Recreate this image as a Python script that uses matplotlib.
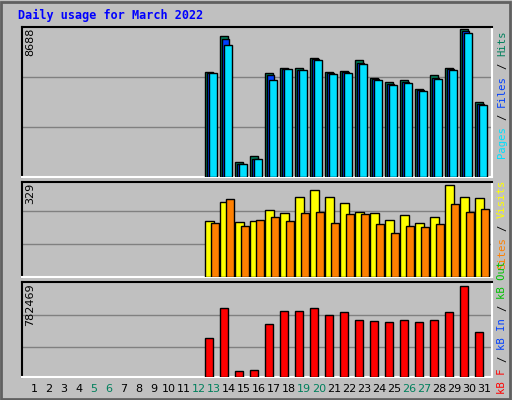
import matplotlib
matplotlib.use("Agg")
import matplotlib.pyplot as plt
from matplotlib.patches import Rectangle

days = list(range(1, 32))
data_days = list(range(13, 32))
hits = [6163, 8262, 857, 1207, 6105, 6396, 6396, 6980, 6163, 6221, 6863, 5813, 5580, 5697, 5172, 5988, 6396, 8688, 4414]
files = [6120, 8087, 790, 1080, 5988, 6360, 6300, 6900, 6090, 6150, 6700, 5740, 5450, 5560, 5100, 5800, 6320, 8560, 4300]
pages = [6105, 7738, 741, 1032, 5697, 6338, 6280, 6863, 6047, 6105, 6630, 5697, 5406, 5522, 5056, 5755, 6280, 8437, 4239]
visits = [201, 268, 197, 201, 240, 229, 286, 308, 286, 265, 233, 229, 204, 219, 194, 215, 329, 286, 283]
sites = [194, 279, 183, 204, 215, 201, 229, 233, 194, 226, 226, 190, 158, 183, 179, 187, 261, 233, 243]
kbytes = [337000, 594000, 55000, 63000, 457000, 568000, 568000, 594000, 534000, 560000, 491000, 483000, 474000, 491000, 474000, 491000, 560000, 782469, 389000]
weekends = [5, 6, 12, 13, 19, 20, 26, 27]

C_HITS, C_FILES, C_PAGES = "#00805c", "#0040ff", "#00e0ff"
C_VIS, C_SITES, C_KB = "#ffff00", "#ff8000", "#ff0000"
BG = "#c0c0c0"
W, H = 512, 400
fig = plt.figure(figsize=(W / 100, H / 100), dpi=100, facecolor=BG)

def ax_px(x0, y0, x1, y1):
    return fig.add_axes([x0 / W, 1 - y1 / H, (x1 - x0) / W, (y1 - y0) / H])

XL = (0.2, 31.53)
# top
a1 = ax_px(22, 27, 492, 177)
top1 = max(hits) * 149 / 147
a1.bar([d - 0.6 for d in data_days], hits, width=0.5, align="edge", color=C_HITS, edgecolor="black", lw=1, zorder=3)
a1.bar([d - 0.47 for d in data_days], files, width=0.5, align="edge", color=C_FILES, edgecolor="black", lw=1, zorder=4)
a1.bar([d - 0.33 for d in data_days], pages, width=0.5, align="edge", color=C_PAGES, edgecolor="black", lw=1, zorder=5)
a1.set_ylim(0, top1)
for g in (1 / 3, 2 / 3):
    a1.axhline(top1 * g, color="#808080", lw=1, zorder=1)
# middle
a2 = ax_px(22, 182, 492, 277)
top2 = max(visits) * 95 / 92.4
a2.bar([d - 0.6 for d in data_days], visits, width=0.6, align="edge", color=C_VIS, edgecolor="black", lw=1, zorder=3)
a2.bar([d - 0.2 for d in data_days], sites, width=0.55, align="edge", color=C_SITES, edgecolor="black", lw=1, zorder=4)
a2.set_ylim(0, top2)
for g in (33 / 95, 66 / 95):
    a2.axhline(top2 * g, color="#808080", lw=1, zorder=1)
# bottom
a3 = ax_px(22, 282, 492, 377)
top3 = max(kbytes) * 95 / 91.4
a3.bar([d - 0.6 for d in data_days], kbytes, width=0.52, align="edge", color=C_KB, edgecolor="black", lw=1, zorder=3)
a3.set_ylim(0, top3)
for g in (30 / 95, 62 / 95):
    a3.axhline(top3 * g, color="#808080", lw=1, zorder=1)

for a in (a1, a2, a3):
    a.set_xlim(*XL)
    a.set_facecolor(BG)
    a.set_xticks([]); a.set_yticks([])
    for s in ("top", "left"):
        a.spines[s].set_color("black")
    for s in ("bottom", "right"):
        a.spines[s].set_color("white")
    for s in a.spines.values():
        s.set_linewidth(1.5)

MONO = "DejaVu Sans Mono"
for d in days:
    x = (34 + 15 * (d - 1)) / W
    fig.text(x, 1 - 389 / H, str(d), ha="center", va="center", fontsize=8, family="DejaVu Sans",
             color=C_HITS if d in weekends else "black")

fig.text(18 / W, 1 - 15 / H, "Daily usage for March 2022", fontsize=8.5, family=MONO,
         weight="bold", color="#0000ff", ha="left", va="center")

for lab, ytop in (("8688", 28), ("329", 183), ("782469", 283)):
    fig.text(30 / W, 1 - ytop / H, lab, rotation=90, ha="center", va="top", fontsize=8, family="DejaVu Sans")

def vlabel(parts, ybottom, fs=7.6):
    adv = 0.602 * fs * 100 / 72
    y = ybottom
    for txt, col in parts:
        n = len(txt)
        # place each segment by its centre so spaces are honoured
        yc = y - adv * n / 2
        fig.text(502 / W, 1 - yc / H, txt.strip(), rotation=90, ha="center", va="center",
                 fontsize=fs, family=MONO, color=col)
        y -= adv * n

vlabel([("Pages", C_PAGES), (" / ", "black"), ("Files", C_FILES), (" / ", "black"), ("Hits", C_HITS)], 158)
vlabel([("Sites", C_SITES), (" / ", "black"), ("Visits", "#ffff00")], 269)
vlabel([("kB F", C_KB), (" / ", "black"), ("kB In", C_FILES), (" / ", "black"), ("kB Out", "#00c000")], 394)

fig.add_artist(Rectangle((1 / W, 1 / H), (W - 3) / W, (H - 3) / H, transform=fig.transFigure,
                         fill=False, edgecolor="#606060", lw=2))
fig.savefig("out.png", dpi=100, facecolor=BG)
